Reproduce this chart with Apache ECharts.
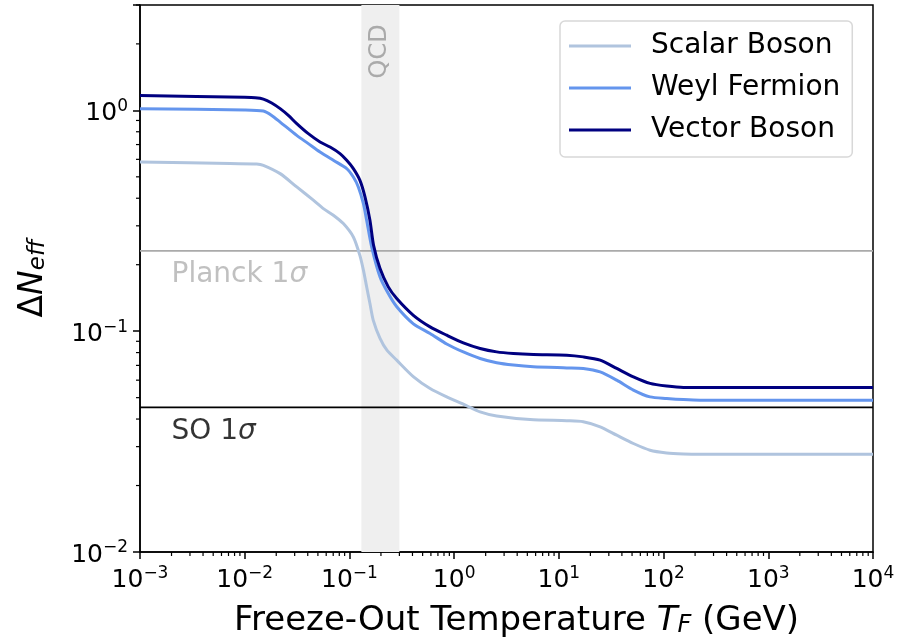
<!DOCTYPE html>
<html>
<head>
<meta charset="utf-8">
<title>Delta N_eff vs freeze-out temperature</title>
<script src="https://cdn.jsdelivr.net/npm/echarts@6/dist/echarts.min.js"></script>
<style>
	html, body { margin: 0; padding: 0; background: #fff; }
	#chart { width: 902px; height: 640px; }
</style>
</head>
<body>
<div id="chart"></div>
<script>
	// axis ranges
	var X_MIN = 1e-3, X_MAX = 1e4;
	var Y_MIN = 1e-2, Y_MAX = 3;

	// Scalar Boson (light)
	var scalarT = [0.001, 0.00724, 0.013, 0.01507, 0.0218, 0.0314, 0.0452, 0.0564, 0.0702, 0.0875, 0.109, 0.126, 0.136, 0.146, 0.157, 0.169, 0.196, 0.228, 0.283, 0.41, 0.589, 0.849, 1.224, 1.77, 2.55, 5.31, 11.9, 17.1, 24.8, 35.7, 51.5, 74.3, 107, 155, 223, 10000];
	var scalarN = [0.584, 0.574, 0.572, 0.564, 0.517, 0.45, 0.392, 0.359, 0.335, 0.307, 0.267, 0.220, 0.189, 0.159, 0.1335, 0.112, 0.0927, 0.082, 0.0739, 0.0621, 0.055, 0.0504, 0.0467, 0.0431, 0.0413, 0.0398, 0.0393, 0.0389, 0.0369, 0.0338, 0.031, 0.0289, 0.0281, 0.0278, 0.0277, 0.0277];

	// Weyl Fermion (mid)
	var weylT = [0.001, 0.01, 0.01507, 0.0181, 0.0218, 0.0314, 0.0405, 0.0524, 0.0702, 0.0942, 0.109, 0.1216, 0.136, 0.146, 0.163, 0.196, 0.235, 0.283, 0.408, 0.589, 0.849, 1.224, 1.77, 2.55, 3.68, 5.71, 11.9, 17.1, 24.8, 35.7, 51.5, 74.3, 107, 155, 223, 10000];
	var weylN = [1.018, 1.005, 0.993, 0.949, 0.885, 0.77, 0.707, 0.648, 0.594, 0.545, 0.499, 0.45, 0.378, 0.318, 0.241, 0.176, 0.148, 0.129, 0.108, 0.0976, 0.0875, 0.0805, 0.0752, 0.0719, 0.0702, 0.069, 0.0682, 0.0678, 0.0654, 0.060, 0.0541, 0.0504, 0.0496, 0.049, 0.0487, 0.0487];

	// Vector Boson (dark)
	var vectorT = [0.001, 0.01, 0.0126, 0.01507, 0.0181, 0.0218, 0.0261, 0.0314, 0.0405, 0.0524, 0.0653, 0.0813, 0.0942, 0.109, 0.126, 0.141, 0.157, 0.17, 0.196, 0.235, 0.283, 0.408, 0.589, 0.849, 1.224, 1.77, 2.55, 3.68, 5.71, 11.9, 17.1, 24.8, 35.7, 51.5, 74.3, 107, 155, 223, 10000];
	var vectorN = [1.169, 1.145, 1.14, 1.125, 1.08, 1.018, 0.949, 0.871, 0.784, 0.719, 0.682, 0.637, 0.594, 0.545, 0.482, 0.405, 0.318, 0.245, 0.192, 0.1587, 0.1406, 0.118, 0.1046, 0.0959, 0.0885, 0.0835, 0.0806, 0.0793, 0.0785, 0.0779, 0.0765, 0.0739, 0.0678, 0.0621, 0.058, 0.0564, 0.0556, 0.0556, 0.0556];

	// reference lines and QCD band
	var planckLevel = 0.231;
	var soLevel = 0.0452;
	var qcdBand = [0.13, 0.3];

	// annotation anchors (data coords)
	var planckLabelAt = [0.002, 0.181];
	var soLabelAt = [0.002, 0.0349];
	var qcdLabelAt = [0.197, 1.85];

	// minor ticks
	var xMinorTicks = [];
	for(var e = -3; e < 4; e++) {
		for(var k = 2; k < 10; k++) xMinorTicks.push(k * Math.pow(10, e));
	}
	var yMinorTicks = [];
	for(var e2 = -2; e2 < 1; e2++) {
		for(var k2 = 2; k2 < 10; k2++) {
			var v = k2 * Math.pow(10, e2);
			if(v <= Y_MAX + 1e-9) yMinorTicks.push(v);
		}
	}

	var FONT = 'DejaVu Sans';

	function zip(xs, ys) {
		var out = [];
		for(var i = 0; i < xs.length; i++) out.push([xs[i], ys[i]]);
		return out;
	}

	function powLabel(val) {
		var lg = Math.log(val) / Math.LN10;
		var ex = Math.round(lg);
		if(Math.abs(lg - ex) > 1e-6) return '';
		var s = ex < 0 ? '\u2212' + (-ex) : '' + ex;
		return '{b|10}{sup|' + s + '}';
	}

	var tickRich = {
		b: { fontSize: 25, fontFamily: FONT, color: '#000', padding: [6, 0, 0, 0] },
		sup: { fontSize: 17, fontFamily: FONT, color: '#000', padding: [0, 0, 8, 0] }
	};

	var minorData = [];
	xMinorTicks.forEach(function(t) { minorData.push([t, Y_MIN, 0]); });
	yMinorTicks.forEach(function(t) { minorData.push([X_MIN, t, 1]); });

	var chart = echarts.init(document.getElementById('chart'));

	var option = {
		animation: false,
		backgroundColor: '#fff',
		grid: {
			left: 140,
			right: 29,
			top: 5,
			bottom: 88,
			containLabel: false,
			outerBoundsMode: 'none',
			show: true,
			borderColor: '#000',
			borderWidth: 1.5,
			backgroundColor: 'transparent'
		},
		legend: {
			data: ['Scalar Boson', 'Weyl Fermion', 'Vector Boson'],
			orient: 'vertical',
			left: 560,
			top: 21,
			icon: 'rect',
			itemWidth: 62,
			itemHeight: 3,
			itemGap: 14,
			padding: [11, 12, 13, 9],
			backgroundColor: '#fff',
			borderColor: '#d8d8d8',
			borderWidth: 1.5,
			borderRadius: 5,
			textStyle: { fontSize: 28, fontFamily: FONT, color: '#000', padding: [0, 0, 0, 15] }
		},
		xAxis: {
			type: 'log',
			logBase: 10,
			min: X_MIN,
			max: X_MAX,
			splitLine: { show: false },
			axisLine: { onZero: false, lineStyle: { color: '#000', width: 1.5 } },
			axisTick: { length: 7, lineStyle: { color: '#000', width: 1.5 } },
			axisLabel: { margin: 10, formatter: powLabel, rich: tickRich },
			name: '{n|Freeze-Out Temperature }{i|T}{s|F}{n| (GeV)}',
			nameLocation: 'middle',
			nameGap: 52,
			nameTextStyle: {
				padding: [0, 0, 0, 20],
				rich: {
					n: { fontSize: 34, fontFamily: FONT, color: '#000' },
					i: { fontSize: 34, fontFamily: FONT, fontStyle: 'italic', color: '#000' },
					s: { fontSize: 24, fontFamily: FONT, fontStyle: 'italic', color: '#000', padding: [10, 0, 0, 0] }
				}
			}
		},
		yAxis: {
			type: 'log',
			logBase: 10,
			min: Y_MIN,
			max: Y_MAX,
			splitLine: { show: false },
			axisLine: { onZero: false, lineStyle: { color: '#000', width: 1.5 } },
			axisTick: { length: 7, lineStyle: { color: '#000', width: 1.5 } },
			axisLabel: { margin: 12, formatter: powLabel, rich: tickRich },
			name: '{d|\u0394}{i|N}{s|eff}',
			nameLocation: 'middle',
			nameGap: 90,
			nameTextStyle: {
				rich: {
					d: { fontSize: 33, fontFamily: FONT, color: '#000' },
					i: { fontSize: 33, fontFamily: FONT, fontStyle: 'italic', color: '#000' },
					s: { fontSize: 23, fontFamily: FONT, fontStyle: 'italic', color: '#000', padding: [10, 0, 0, 0] }
				}
			}
		},
		series: [
			{
				name: 'qcd',
				type: 'line',
				data: [],
				z: 0,
				silent: true,
				markArea: {
					silent: true,
					itemStyle: { color: '#efefef' },
					data: [[{ xAxis: qcdBand[0] }, { xAxis: qcdBand[1] }]]
				}
			},
			{
				name: 'planck',
				type: 'line',
				data: [[X_MIN, planckLevel], [X_MAX, planckLevel]],
				symbol: 'none',
				silent: true,
				z: 1,
				lineStyle: { color: '#aaaaaa', width: 1.8 }
			},
			{
				name: 'so',
				type: 'line',
				data: [[X_MIN, soLevel], [X_MAX, soLevel]],
				symbol: 'none',
				silent: true,
				z: 1,
				lineStyle: { color: '#000', width: 1.8 }
			},
			{
				name: 'Scalar Boson',
				type: 'line',
				data: zip(scalarT, scalarN),
				symbol: 'none',
				smooth: 0.25,
				z: 3,
				color: '#b0c4de',
				lineStyle: { color: '#b0c4de', width: 3 }
			},
			{
				name: 'Weyl Fermion',
				type: 'line',
				data: zip(weylT, weylN),
				symbol: 'none',
				smooth: 0.25,
				z: 3,
				color: '#6495ed',
				lineStyle: { color: '#6495ed', width: 3 }
			},
			{
				name: 'Vector Boson',
				type: 'line',
				data: zip(vectorT, vectorN),
				symbol: 'none',
				smooth: 0.25,
				z: 3,
				color: '#000080',
				lineStyle: { color: '#000080', width: 3 }
			},
			{
				name: 'labels',
				type: 'scatter',
				symbolSize: 0,
				silent: true,
				z: 4,
				data: [
					{ value: planckLabelAt, label: { formatter: 'Planck 1{g|\u03c3}', color: '#b0b0b0' } },
					{ value: soLabelAt, label: { formatter: 'SO 1{g|\u03c3}', color: '#000' } },
					{ value: qcdLabelAt, label: { formatter: 'QCD', color: '#999', fontSize: 24, rotate: 90, align: 'center' } }
				],
				label: {
					show: true,
					position: [0, 0],
					align: 'left',
					verticalAlign: 'middle',
					fontSize: 28,
					fontFamily: FONT,
					rich: {
						g: { fontSize: 28, fontFamily: FONT, fontStyle: 'italic' }
					}
				}
			},
			{
				name: 'minorTicks',
				type: 'custom',
				silent: true,
				clip: false,
				z: 5,
				data: minorData,
				renderItem: function(params, api) {
					var p = api.coord([api.value(0), api.value(1)]);
					var horiz = api.value(2) === 1;
					return {
						type: 'line',
						shape: horiz ? { x1: p[0] - 4, y1: p[1], x2: p[0], y2: p[1] } : { x1: p[0], y1: p[1], x2: p[0], y2: p[1] + 4 },
						style: { stroke: '#000', lineWidth: 1.2 }
					};
				}
			}
		]
	};

	chart.setOption(option);
</script>
</body>
</html>
